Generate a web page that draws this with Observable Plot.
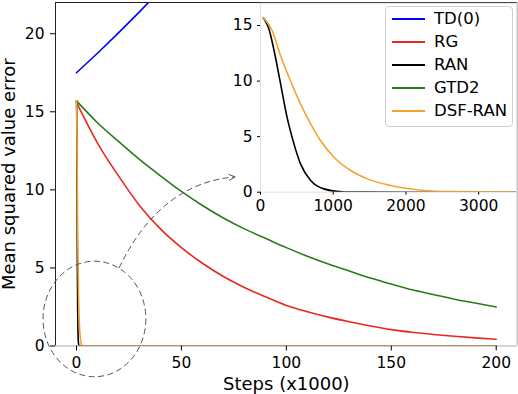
<!DOCTYPE html>
<html><head><meta charset="utf-8">
<script src="https://cdn.jsdelivr.net/npm/d3@7"></script>
<script src="https://cdn.jsdelivr.net/npm/@observablehq/plot@0.6"></script>
<style>
body{margin:0;background:#fff;}
#wrap{position:relative;width:518px;height:394px;font-family:"DejaVu Sans",sans-serif;overflow:hidden;}
#wrap > svg{position:absolute;left:0;top:0;}
#legend{position:absolute;left:385px;top:6px;width:126px;height:119px;border:1px solid #d0d0d0;border-radius:4px;background:rgba(255,255,255,0.85);}
.item{position:absolute;left:0;height:0;width:100%;}
.sw{position:absolute;left:6px;width:33px;height:0;border-top:2px solid;transform:translateY(-1px);}
.lab{position:absolute;left:48px;top:0;font-size:16.5px;line-height:1;transform:translateY(-50%);white-space:nowrap;color:#000;}
</style></head><body><div id="wrap"></div>
<script>
// ---------- data ----------
const seriesNames = ["TD(0)", "RG", "RAN", "GTD2", "DSF-RAN"];
const seriesColors = ["#0000ff", "#e8281e", "#000000", "#2a7a1a", "#f5a330"];

// steps in thousands
const tdSteps = [0, 10, 20, 30, 40, 50];
const tdVals  = [17.5, 18.75, 20.05, 21.4, 22.8, 24.2];

const longSteps = [0, 10, 20, 30, 40, 50, 60, 70, 80, 90, 100, 110, 120, 130, 140, 150, 160, 170, 180, 190, 200];
const rgVals    = [15.6, 13.0, 10.9, 9.0, 7.5, 6.3, 5.3, 4.45, 3.75, 3.15, 2.6, 2.2, 1.85, 1.55, 1.28, 1.05, 0.88, 0.74, 0.62, 0.52, 0.43];
const gtd2Vals  = [15.7, 14.3, 13.1, 11.95, 10.9, 9.9, 9.0, 8.2, 7.5, 6.9, 6.3, 5.75, 5.25, 4.8, 4.35, 3.97, 3.6, 3.3, 3.0, 2.75, 2.5];

// steps (raw)
const ranSteps = [40, 115, 185, 275, 365, 460, 550, 690, 870, 1150, 2000, 200000];
const ranVals  = [15.7, 14.7, 12.8, 9.8, 6.75, 4.35, 2.55, 1.05, 0.3, 0.02, 0, 0];
const dsfSteps = [40, 160, 275, 410, 550, 690, 825, 1010, 1240, 1470, 1790, 2150, 2600, 3500, 200000];
const dsfVals  = [15.7, 14.55, 12.3, 10.05, 7.95, 6.15, 4.65, 3.15, 1.95, 1.2, 0.6, 0.22, 0.05, 0, 0];

const xTicks = [0, 50, 100, 150, 200];
const yTicks = [0, 5, 10, 15, 20];
const insetXTicks = [0, 1000, 2000, 3000];
const insetYTicks = [0, 5, 10, 15];
const xLabel = "Steps (x1000)";
const yLabel = "Mean squared value error";

// annotation (data units of main plot)
const zoomCircle = {cx: 8.8, cy: 1.7, rx: 24.5, ry: 3.7};
const arrowPts = {x0: 20.5, y0: 4.96, xc: 40, yc: 10.4, x1: 75.8, y1: 10.8};

// ---------- build tables ----------
const td   = tdSteps.map((x, i) => ({x, y: tdVals[i]}));
const rg   = longSteps.map((x, i) => ({x, y: rgVals[i]}));
const gtd2 = longSteps.map((x, i) => ({x, y: gtd2Vals[i]}));
const ran  = ranSteps.map((s, i) => ({s, x: s / 1000, y: ranVals[i]}));
const dsf  = dsfSteps.map((s, i) => ({s, x: s / 1000, y: dsfVals[i]}));

const font = {fontFamily: "DejaVu Sans", background: "transparent", color: "#000", overflow: "visible"};
const sw = 1.6;

const main = Plot.plot({
  width: 518, height: 394,
  marginLeft: 55, marginRight: 1.3, marginTop: 2, marginBottom: 48.5,
  style: font,
  x: {domain: [-10, 210]},
  y: {domain: [0, 22]},
  marks: [
    Plot.ruleX([210], {stroke: "#aaa"}),
    Plot.ruleY([0], {stroke: "#aaa"}),
    Plot.ruleX([-10], {stroke: "#222"}),
    Plot.ruleY([22], {stroke: "#222"}),
    Plot.axisX({ticks: xTicks, tickSize: 5, tickPadding: 6, label: null, fontSize: 15.5}),
    Plot.axisY({ticks: yTicks, tickSize: 5, tickPadding: 6, label: null, fontSize: 15.5}),
    Plot.line(td,   {x: "x", y: "y", stroke: seriesColors[0], strokeWidth: sw, clip: true}),
    Plot.line(rg,   {x: "x", y: "y", stroke: seriesColors[1], strokeWidth: sw, curve: "monotone-x", clip: true}),
    Plot.line(ran,  {x: "x", y: "y", stroke: seriesColors[2], strokeWidth: sw, curve: "monotone-x", clip: true}),
    Plot.line(gtd2, {x: "x", y: "y", stroke: seriesColors[3], strokeWidth: sw, curve: "monotone-x", clip: true}),
    Plot.line(dsf,  {x: "x", y: "y", stroke: seriesColors[4], strokeWidth: sw, curve: "monotone-x", clip: true}),
    Plot.text([yLabel], {text: d => d, frameAnchor: "left", textAnchor: "middle", rotate: -90, dx: -40.5, lineAnchor: "bottom", fontSize: 18}),
    Plot.text([xLabel], {text: d => d, frameAnchor: "bottom", textAnchor: "middle", dy: 44, lineAnchor: "bottom", fontSize: 18})
  ]
});

// annotation: dashed ellipse and curved arrow, positioned through the main scales
const sx = main.scale("x"), sy = main.scale("y");
const g = d3.select(main).append("g").attr("fill", "none").attr("stroke", "#555").attr("stroke-width", 1);
const ecx = sx.apply(zoomCircle.cx), ecy = sy.apply(zoomCircle.cy);
g.append("ellipse")
  .attr("cx", ecx).attr("cy", ecy)
  .attr("rx", sx.apply(zoomCircle.cx + zoomCircle.rx) - ecx)
  .attr("ry", ecy - sy.apply(zoomCircle.cy + zoomCircle.ry))
  .attr("stroke-dasharray", "6,3.5");
const p0 = [sx.apply(arrowPts.x0), sy.apply(arrowPts.y0)];
const pc = [sx.apply(arrowPts.xc), sy.apply(arrowPts.yc)];
const p1 = [sx.apply(arrowPts.x1), sy.apply(arrowPts.y1)];
g.append("path").attr("d", `M${p0}Q${pc} ${p1}`).attr("stroke-dasharray", "6,3.5");
const ang = Math.atan2(p1[1] - pc[1], p1[0] - pc[0]);
const hl = 7;
g.append("path").attr("d",
  `M${p1[0] - hl * Math.cos(ang - 0.45)},${p1[1] - hl * Math.sin(ang - 0.45)}L${p1}L${p1[0] - hl * Math.cos(ang + 0.45)},${p1[1] - hl * Math.sin(ang + 0.45)}`);

const inset = Plot.plot({
  width: 518, height: 394,
  marginLeft: 260, marginRight: 2, marginTop: 2.8, marginBottom: 202.3,
  style: font,
  x: {domain: [0, 3520]},
  y: {domain: [0, 17]},
  marks: [
    Plot.frame({fill: "white", stroke: "#e2e2e2"}),
    Plot.axisX({ticks: insetXTicks, tickSize: 3, tickPadding: 5, label: null, fontSize: 15.5, tickFormat: d => String(d)}),
    Plot.axisY({ticks: insetYTicks, tickSize: 3, tickPadding: 5, label: null, fontSize: 15.5}),
    Plot.line(ran, {x: "s", y: "y", stroke: seriesColors[2], strokeWidth: sw, curve: "monotone-x", clip: true}),
    Plot.line(dsf, {x: "s", y: "y", stroke: seriesColors[4], strokeWidth: sw, curve: "monotone-x", clip: true})
  ]
});

const wrap = document.getElementById("wrap");
wrap.appendChild(main);
wrap.appendChild(inset);

// legend
const legend = document.createElement("div");
legend.id = "legend";
seriesNames.forEach((name, i) => {
  const it = document.createElement("div");
  it.className = "item";
  it.style.top = (11.7 + 23 * i) + "px";
  const s = document.createElement("div");
  s.className = "sw";
  s.style.borderTopColor = seriesColors[i];
  const t = document.createElement("div");
  t.className = "lab";
  t.textContent = name;
  it.appendChild(s); it.appendChild(t);
  legend.appendChild(it);
});
wrap.appendChild(legend);
</script></body></html>
